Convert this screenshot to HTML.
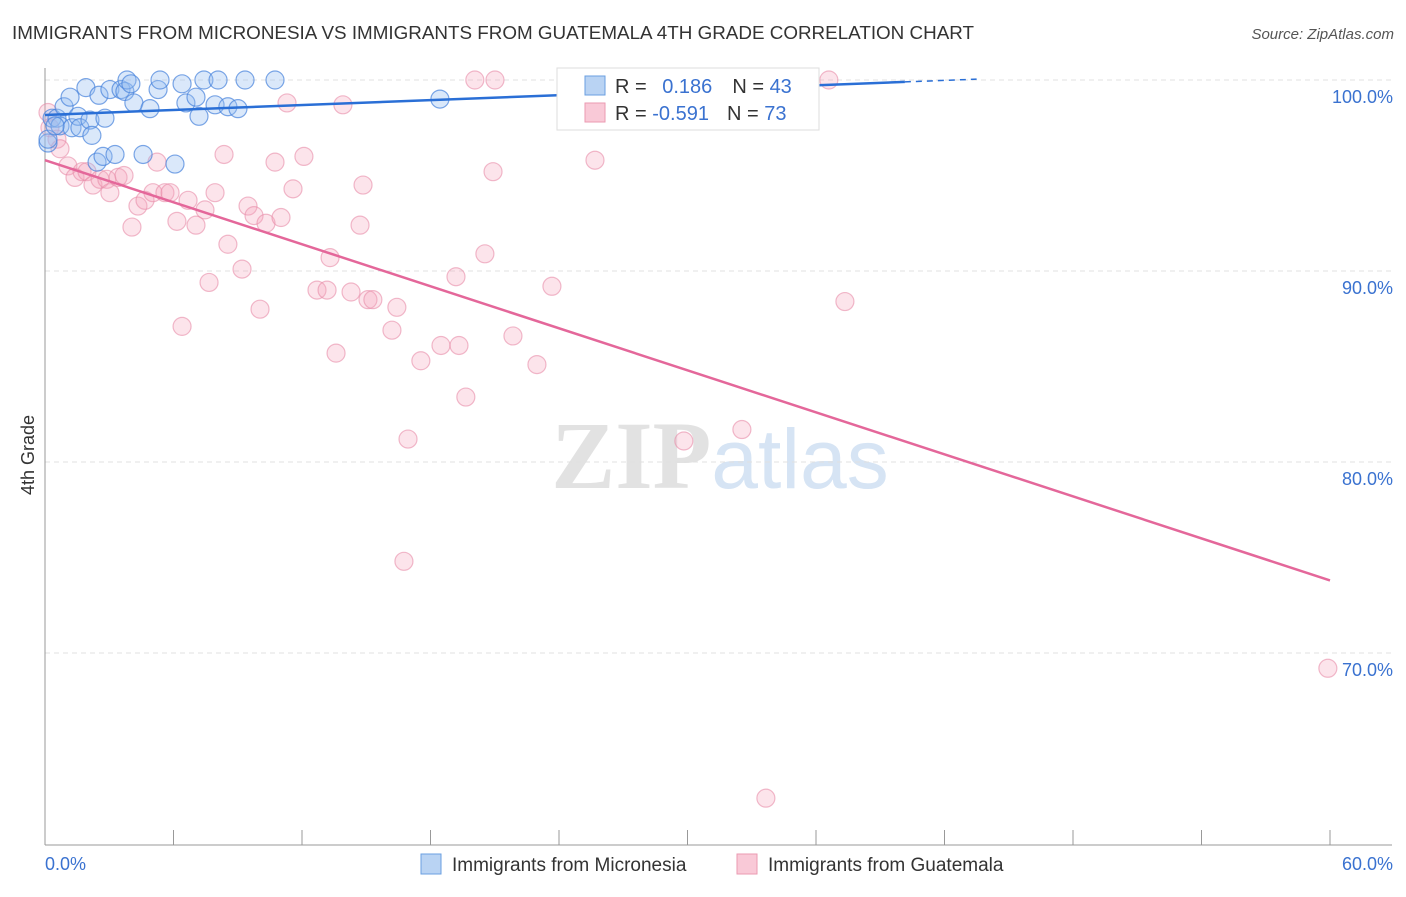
<!DOCTYPE html>
<html><head><meta charset="utf-8"><style>
body{margin:0;background:#fff;font-family:"Liberation Sans",sans-serif;}
svg text{font-family:"Liberation Sans",sans-serif;}
</style></head><body>
<svg id="chart" width="1406" height="892" xmlns="http://www.w3.org/2000/svg">
<text x="12" y="39" font-size="18.8" fill="#333" textLength="962" lengthAdjust="spacingAndGlyphs">IMMIGRANTS FROM MICRONESIA VS IMMIGRANTS FROM GUATEMALA 4TH GRADE CORRELATION CHART</text>
<text x="1394" y="39" font-size="15" fill="#555" text-anchor="end" font-style="italic">Source: ZipAtlas.com</text>
<text x="720" y="488" font-size="96" text-anchor="middle"><tspan fill="#e2e2e2" font-family="Liberation Serif" font-weight="bold">ZIP</tspan><tspan fill="#d6e4f4" font-size="84">atlas</tspan></text>
<text transform="translate(34,455) rotate(-90)" font-size="18" fill="#333" text-anchor="middle">4th Grade</text>
<g id="grid"></g><g id="axes"></g><g id="marks"></g>
<g>
<rect x="557" y="68" width="262" height="62" fill="#fff" stroke="#ddd"/>
<rect x="585" y="76" width="20" height="19" fill="#b9d3f3" stroke="#6a9fe0"/>
<rect x="585" y="103" width="20" height="19" fill="#f9c9d7" stroke="#eb9ab2"/>
<text x="615" y="93" font-size="20" fill="#333">R = <tspan fill="#3a72d0" dx="10">0.186</tspan><tspan dx="20" fill="#333">N = </tspan><tspan fill="#3a72d0">43</tspan></text>
<text x="615" y="120" font-size="20" fill="#333">R = <tspan fill="#3a72d0">-0.591</tspan><tspan dx="18" fill="#333">N = </tspan><tspan fill="#3a72d0">73</tspan></text>
</g>
<g>
<rect x="421" y="854" width="20" height="20" fill="#b9d3f3" stroke="#6a9fe0"/>
<text x="452" y="871" font-size="19" fill="#333">Immigrants from Micronesia</text>
<rect x="737" y="854" width="20" height="20" fill="#f9c9d7" stroke="#eb9ab2"/>
<text x="768" y="871" font-size="19" fill="#333">Immigrants from Guatemala</text>
</g>
</svg>
<script>
const blueX=[0.14,0.33,0.56,0.7,0.89,1.17,1.26,1.54,1.63,1.91,2.1,2.19,2.43,2.52,2.71,2.8,3.03,3.27,3.55,3.73,3.83,4.01,4.15,4.58,4.9,5.28,5.37,6.07,6.4,6.58,7.05,7.19,7.42,7.94,8.08,8.54,9.01,9.34,10.74,18.44,32.21,0.14,0.47];
const blueY=[96.7,98.0,98.0,97.6,98.6,99.1,97.5,98.1,97.5,99.6,97.9,97.1,95.7,99.2,96.0,98.0,99.5,96.1,99.5,99.4,100,99.8,98.8,96.1,98.5,99.5,100,95.6,99.8,98.8,99.1,98.1,100,98.7,100,98.6,98.5,100,100,99.0,97.9,96.9,97.6];
const pinkX=[0.14,0.23,0.56,0.7,1.07,1.4,1.73,1.96,2.24,2.57,2.89,3.03,3.41,3.69,4.06,4.34,4.67,5.04,5.23,5.6,5.84,6.16,6.4,6.68,7.05,7.47,7.66,7.94,8.36,8.54,9.2,9.48,9.76,10.04,10.32,10.74,11.02,11.3,11.58,12.09,12.7,13.17,13.31,13.59,13.91,14.29,14.71,14.85,15.08,15.31,16.2,16.43,16.76,16.95,17.55,18.49,19.19,19.33,19.65,20.07,20.54,20.92,21.01,21.85,22.97,23.67,25.68,29.83,32.54,33.66,36.6,37.35,59.9];
const pinkY=[98.3,97.5,96.9,96.4,95.5,94.9,95.2,95.2,94.5,94.8,94.8,94.1,94.9,95.0,92.3,93.4,93.7,94.1,95.7,94.1,94.1,92.6,87.1,93.7,92.4,93.2,89.4,94.1,96.1,91.4,90.1,93.4,92.9,88.0,92.5,95.7,92.8,98.8,94.3,96.0,89.0,89.0,90.7,85.7,98.7,88.9,92.4,94.5,88.5,88.5,86.9,88.1,74.8,81.2,85.3,86.1,89.7,86.1,83.4,100,90.9,95.2,100,86.6,85.1,89.2,95.8,81.1,81.7,62.4,100,88.4,69.2];
const yTicks=[100,90,80,70];
const yTickLabels=["100.0%","90.0%","80.0%","70.0%"];
const xTicks=[0,6,12,18,24,30,36,42,48,54,60];
const blueTrend=[0,98.17,40.15,99.9];
const pinkTrend=[0,95.8,60,73.8];
const NS="http://www.w3.org/2000/svg";
const sx=v=>45+v*(1285/60);
const sy=v=>80+(100-v)*19.1;
function mk(parent,tag,attrs){const e=document.createElementNS(NS,tag);for(const k in attrs)e.setAttribute(k,attrs[k]);document.getElementById(parent).appendChild(e);return e;}
yTicks.forEach((t,i)=>{
 const g=mk('grid','line',{x1:45,x2:1392,y1:sy(t),y2:sy(t),stroke:'#e0e0e0','stroke-dasharray':'5,4'});
 
 
 const l=mk('axes','text',{x:1393,y:sy(t)+23,'text-anchor':'end','font-size':18,fill:'#3a72d0'});
 l.textContent=yTickLabels[i];
 
 
});
let a=mk('axes','line',{x1:45,x2:45,y1:68,y2:845,stroke:'#999'});


a=mk('axes','line',{x1:45,x2:1392,y1:845,y2:845,stroke:'#999'});


xTicks.forEach(t=>{const e=mk('axes','line',{x1:sx(t),x2:sx(t),y1:830,y2:845,stroke:'#999'});
 
 });
let t0=mk('axes','text',{x:45,y:870,'font-size':18,fill:'#3a72d0'});t0.textContent='0.0%';


let t1=mk('axes','text',{x:1393,y:870,'font-size':18,fill:'#3a72d0','text-anchor':'end'});t1.textContent='60.0%';


pinkX.forEach((x,i)=>{const c=mk('marks','circle',{cx:sx(x),cy:sy(pinkY[i]),r:9,fill:'rgba(244,165,190,0.3)',stroke:'rgba(232,140,168,0.6)','stroke-width':1.2});
 
 });
blueX.forEach((x,i)=>{const c=mk('marks','circle',{cx:sx(x),cy:sy(blueY[i]),r:9,fill:'rgba(150,190,240,0.35)',stroke:'rgba(70,130,220,0.7)','stroke-width':1.2});
 
 });
let l1=mk('marks','line',{x1:sx(blueTrend[0]),y1:sy(blueTrend[1]),x2:sx(blueTrend[2]),y2:sy(blueTrend[3]),stroke:'#2a6fd6','stroke-width':2.5});


const slope=(blueTrend[3]-blueTrend[1])/(blueTrend[2]-blueTrend[0]);
let l1b=mk('marks','line',{x1:sx(blueTrend[2]),y1:sy(blueTrend[3]),x2:sx(43.5),y2:sy(blueTrend[3]+slope*(43.5-blueTrend[2])),stroke:'#2a6fd6','stroke-width':1.5,'stroke-dasharray':'6,5'});


let l2=mk('marks','line',{x1:sx(pinkTrend[0]),y1:sy(pinkTrend[1]),x2:sx(pinkTrend[2]),y2:sy(pinkTrend[3]),stroke:'#e4679a','stroke-width':2.5});


</script>
</body></html>
